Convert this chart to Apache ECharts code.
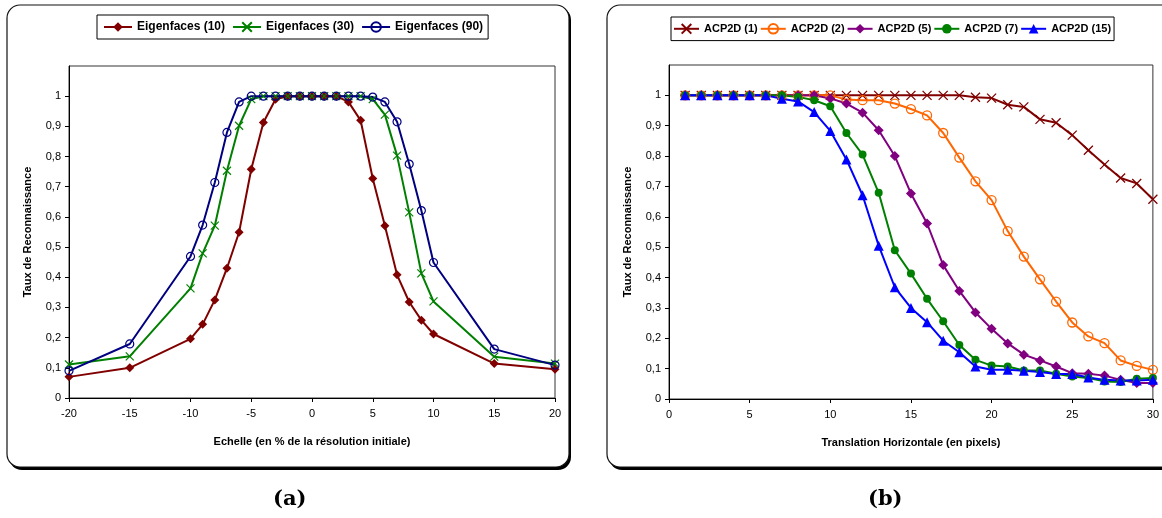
<!DOCTYPE html>
<html>
<head>
<meta charset="utf-8">
<script src="https://cdn.jsdelivr.net/npm/echarts@6/dist/echarts.min.js"></script>
<style>
html,body{margin:0;padding:0;background:#fff;}
#main{width:1162px;height:518px;}
</style>
</head>
<body>
<div id="main"></div>
<script>
// ---------- data ----------
const scaleX = [-20,-15,-10,-9,-8,-7,-6,-5,-4,-3,-2,-1,0,1,2,3,4,5,6,7,8,9,10,15,20];
const eig10 = [0.07,0.10,0.196,0.244,0.325,0.43,0.549,0.758,0.913,0.99,1,1,1,1,1,0.981,0.92,0.727,0.571,0.408,0.318,0.258,0.212,0.114,0.095];
const eig30 = [0.111,0.138,0.363,0.479,0.571,0.753,0.902,0.99,1,1,1,1,1,1,1,1,1,0.99,0.939,0.803,0.615,0.413,0.32,0.137,0.114];
const eig90 = [0.09,0.179,0.469,0.573,0.714,0.88,0.981,1,1,1,1,1,1,1,1,1,1,0.997,0.981,0.915,0.775,0.621,0.449,0.162,0.109];

const transX = [1,2,3,4,5,6,7,8,9,10,11,12,13,14,15,16,17,18,19,20,21,22,23,24,25,26,27,28,29,30];
const acp1  = [1,1,1,1,1,1,1,1,1,1,1,1,1,1,1,1,1,1,0.994,0.991,0.969,0.962,0.921,0.91,0.869,0.819,0.772,0.728,0.71,0.658];
const acp2  = [1,1,1,1,1,1,1,1,1,1,0.986,0.984,0.984,0.973,0.955,0.934,0.876,0.795,0.717,0.655,0.553,0.469,0.394,0.321,0.252,0.206,0.184,0.127,0.109,0.096];
const acp5  = [1,1,1,1,1,1,1,1,1,0.99,0.973,0.943,0.885,0.8,0.677,0.578,0.441,0.356,0.285,0.231,0.183,0.146,0.127,0.107,0.085,0.083,0.077,0.063,0.053,0.053];
const acp7  = [1,1,1,1,1,1,1,0.995,0.984,0.964,0.876,0.805,0.679,0.49,0.413,0.33,0.256,0.178,0.129,0.11,0.107,0.094,0.094,0.083,0.074,0.069,0.058,0.056,0.067,0.069];
const acp15 = [1,1,1,1,1,1,0.989,0.98,0.945,0.883,0.789,0.671,0.505,0.368,0.3,0.253,0.192,0.154,0.107,0.096,0.096,0.093,0.089,0.082,0.082,0.071,0.063,0.061,0.061,0.063];

const yTicks = [0,0.1,0.2,0.3,0.4,0.5,0.6,0.7,0.8,0.9,1];
const xTicksLeft = [-20,-15,-10,-5,0,5,10,15,20];
const xTicksRight = [0,5,10,15,20,25,30];

const namesLeft = ['Eigenfaces (10)','Eigenfaces (30)','Eigenfaces (90)'];
const namesRight = ['ACP2D (1)','ACP2D (2)','ACP2D (5)','ACP2D (7)','ACP2D (15)'];
const yName = 'Taux de Reconnaissance';
const xNameLeft = 'Echelle (en % de la résolution initiale)';
const xNameRight = 'Translation Horizontale (en pixels)';

// ---------- chart ----------
const FONT = '"Liberation Sans", Arial, sans-serif';
const XPATH = 'path://M0,0L10,10M10,0L0,10';
const pairs = (xs, ys) => xs.map((x, i) => [x, ys[i]]);
const fmtY = v => { const r = Math.round(v * 10) / 10; return r > 1.05 ? '' : String(r).replace('.', ','); };

function yAxis(gi) {
  return {
    type: 'value', gridIndex: gi, min: 0, max: 1.1, interval: 0.1,
    name: yName, nameLocation: 'middle', nameGap: 36, nameRotate: 90,
    nameTextStyle: { fontFamily: FONT, fontSize: 11, fontWeight: 'bold', color: '#000' },
    axisLine: { show: true, onZero: false, lineStyle: { color: '#000', width: 1 } },
    axisTick: { show: true, inside: false, length: 4, lineStyle: { color: '#000' }, customValues: yTicks },
    axisLabel: { fontFamily: FONT, fontSize: 11, color: '#000', margin: 8, formatter: fmtY, customValues: yTicks },
    splitLine: { show: false }
  };
}
function xAxis(gi, min, max, name, ticks) {
  return {
    type: 'value', gridIndex: gi, min: min, max: max, interval: 5,
    name: name, nameLocation: 'middle', nameGap: 38,
    nameTextStyle: { fontFamily: FONT, fontSize: 11, fontWeight: 'bold', color: '#000' },
    axisLine: { show: true, onZero: false, lineStyle: { color: '#000', width: 1 } },
    axisTick: { show: true, length: 4, lineStyle: { color: '#000' }, customValues: ticks },
    axisLabel: { fontFamily: FONT, fontSize: 11, color: '#000', margin: 10, customValues: ticks, showMaxLabel: true, showMinLabel: true },
    splitLine: { show: false }
  };
}
function line(name, xi, xs, ys, color, symbol, size, hollow, stroke) {
  return {
    type: 'line', name: name, xAxisIndex: xi, yAxisIndex: xi,
    data: pairs(xs, ys), symbol: symbol, symbolSize: size, showSymbol: true, clip: false,
    color: color,
    lineStyle: { color: color, width: 2 },
    itemStyle: hollow ? { color: 'rgba(0,0,0,0)', borderColor: color, borderWidth: stroke || 1 }
                      : (stroke ? { color: color, borderColor: color, borderWidth: stroke } : { color: color, borderWidth: 0 }),
    emphasis: { disabled: true },
    animation: false
  };
}

const chart = echarts.init(document.getElementById('main'), null, { renderer: 'canvas' });
chart.setOption({
  animation: false,
  backgroundColor: '#fff',
  graphic: [
    { type: 'rect', z: -20, shape: { x: 9, y: 7, width: 562, height: 463, r: 13 }, style: { fill: '#000' } },
    { type: 'rect', z: -19, shape: { x: 7, y: 5, width: 562, height: 462, r: 13 }, style: { fill: '#fff', stroke: '#111', lineWidth: 1.2 } },
    { type: 'rect', z: -20, shape: { x: 609, y: 7, width: 600, height: 463, r: 13 }, style: { fill: '#000' } },
    { type: 'rect', z: -19, shape: { x: 607, y: 5, width: 600, height: 462, r: 13 }, style: { fill: '#fff', stroke: '#111', lineWidth: 1.2 } },
    { type: 'text', left: 273, top: 489, style: { text: '(a)', font: 'bold 21px "DejaVu Serif", serif', fill: '#000' } },
    { type: 'text', left: 868, top: 489, style: { text: '(b)', font: 'bold 21px "DejaVu Serif", serif', fill: '#000' } }
  ],
  legend: [
    {
      data: namesLeft, left: 97, top: 15, orient: 'horizontal',
      padding: [6, 5, 6, 6], itemGap: 7, itemWidth: 28, itemHeight: 12,
      borderColor: '#000', borderWidth: 1, backgroundColor: '#fff',
      textStyle: { fontFamily: FONT, fontSize: 12, fontWeight: 'bold', color: '#000' },
      selectedMode: false
    },
    {
      data: namesRight, left: 671, top: 17, orient: 'horizontal',
      padding: [6, 3, 6, 2], itemGap: 2, itemWidth: 25, itemHeight: 12,
      borderColor: '#000', borderWidth: 1, backgroundColor: '#fff',
      textStyle: { fontFamily: FONT, fontSize: 11, fontWeight: 'bold', color: '#000' },
      selectedMode: false
    }
  ],
  grid: [
    { left: 69, right: 607, top: 66, bottom: 120, show: true, borderColor: '#333', borderWidth: 1, backgroundColor: 'rgba(0,0,0,0)' },
    { left: 669, right: 6, top: 65, bottom: 119, show: true, borderColor: '#333', borderWidth: 1, backgroundColor: 'rgba(0,0,0,0)' }
  ],
  xAxis: [ xAxis(0, -20, 20, xNameLeft, xTicksLeft), xAxis(1, 0, 30, xNameRight, xTicksRight) ],
  yAxis: [ yAxis(0), yAxis(1) ],
  series: [
    line(namesLeft[0], 0, scaleX, eig10, '#800000', 'diamond', 9),
    line(namesLeft[1], 0, scaleX, eig30, '#008000', XPATH, 8, true, 1.2),
    line(namesLeft[2], 0, scaleX, eig90, '#000080', 'circle', 8, true, 1.2),
    line(namesRight[0], 1, transX, acp1, '#800000', XPATH, 9, true, 1.3),
    line(namesRight[1], 1, transX, acp2, '#FF6600', 'circle', 9, true, 1.3),
    line(namesRight[2], 1, transX, acp5, '#800080', 'diamond', 10),
    line(namesRight[3], 1, transX, acp7, '#008000', 'circle', 8),
    line(namesRight[4], 1, transX, acp15, '#0000FF', 'triangle', 10)
  ]
});
</script>
</body>
</html>
